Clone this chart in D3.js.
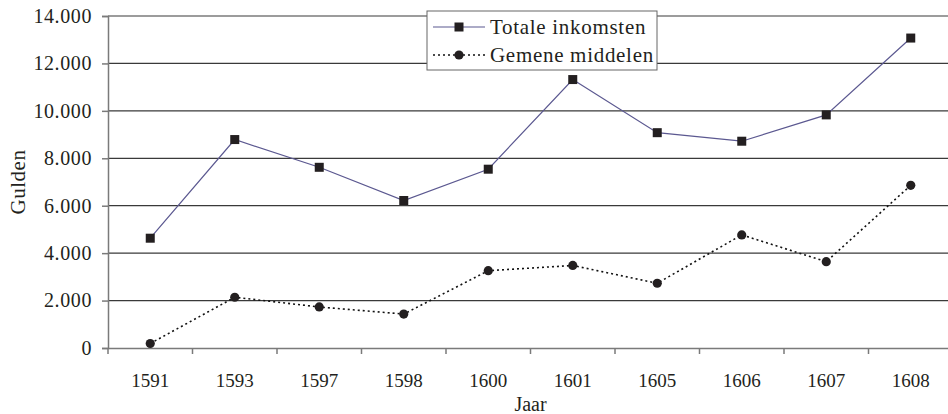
<!DOCTYPE html>
<html>
<head>
<meta charset="utf-8">
<script src="https://cdn.jsdelivr.net/npm/d3@7"></script>
<style>
  html, body { margin: 0; padding: 0; background: #fff; }
  svg text { font-family: "Liberation Serif", "DejaVu Serif", serif; fill: #231f20; font-variant-numeric: oldstyle-nums; }
</style>
</head>
<body>
<div id="chart"></div>
<script>
// data
let years = ["1591", "1593", "1597", "1598", "1600", "1601", "1605", "1606", "1607", "1608"];
let totaleInkomsten = [4630, 8790, 7620, 6220, 7540, 11320, 9080, 8720, 9830, 13070];
let gemeneMiddelen = [190, 2140, 1730, 1430, 3260, 3480, 2730, 4770, 3640, 6860];
let yTicks = [0, 2000, 4000, 6000, 8000, 10000, 12000, 14000];
let seriesNames = ["Totale inkomsten", "Gemene middelen"];

let width = 948, height = 414;
let plotLeft = 108, plotRight = 953, plotTop = 16, plotBottom = 348;

let svg = d3.select("#chart")
    .append("svg")
        .attr("width", width)
        .attr("height", height);

let x = d3.scaleBand()
    .domain(years)
    .range([plotLeft, plotRight])
    .padding(0);

let y = d3.scaleLinear()
    .domain([0, 14000])
    .range([plotBottom, plotTop]);

let nl = d3.formatLocale({decimal: ",", thousands: ".", grouping: [3], currency: ["", ""]});
let fmt = nl.format(",");

// horizontal gridlines
svg.append("g")
    .selectAll("line")
    .data(yTicks.filter(d => d > 0))
    .enter()
    .append("line")
        .attr("x1", plotLeft)
        .attr("x2", plotRight)
        .attr("y1", d => y(d))
        .attr("y2", d => y(d))
        .attr("stroke", "#3a3a3a")
        .attr("stroke-width", 1.2);

// y axis
let yAxis = svg.append("g")
    .attr("transform", "translate(" + plotLeft + ",0)")
    .call(d3.axisLeft(y).tickValues(yTicks).tickFormat(fmt).tickSize(6).tickPadding(10));
yAxis.select(".domain").attr("stroke", "#7a7a7a").attr("stroke-width", 1.5);
yAxis.selectAll(".tick line").attr("stroke", "#7a7a7a").attr("stroke-width", 1.5);
yAxis.selectAll(".tick text")
    .style("font-size", "20px")
    .style("letter-spacing", "0.6px")
    .attr("fill", "#231f20");

// x axis: labels at band centres, ticks at band edges
let xAxis = svg.append("g")
    .attr("transform", "translate(0," + plotBottom + ")")
    .call(d3.axisBottom(x).tickSize(0).tickPadding(26).tickSizeOuter(0));
xAxis.select(".domain").attr("stroke", "#7a7a7a").attr("stroke-width", 1.5);
xAxis.selectAll(".tick text").style("font-size", "19px").attr("fill", "#231f20");

let edges = years.map(d => x(d)).concat([x.range()[1]]);
xAxis.selectAll(".edge")
    .data(edges)
    .enter()
    .append("line")
        .attr("class", "edge")
        .attr("x1", d => d)
        .attr("x2", d => d)
        .attr("y1", 0)
        .attr("y2", 6)
        .attr("stroke", "#7a7a7a")
        .attr("stroke-width", 1.5);

// axis titles
svg.append("text")
    .attr("text-anchor", "middle")
    .attr("transform", "translate(25," + ((plotTop + plotBottom) / 2) + ") rotate(-90)")
    .style("font-size", "21px")
    .style("letter-spacing", "0.5px")
    .text("Gulden");

svg.append("text")
    .attr("text-anchor", "middle")
    .attr("x", (plotLeft + plotRight) / 2)
    .attr("y", 411)
    .style("font-size", "20px")
    .text("Jaar");

let cx = d => x(d) + x.bandwidth() / 2;

// gemene middelen: dotted black line with circles
let lineG = d3.line()
    .x((d, i) => cx(years[i]))
    .y(d => y(d));

svg.append("path")
    .datum(gemeneMiddelen)
    .attr("fill", "none")
    .attr("stroke", "#111")
    .attr("stroke-width", 1.6)
    .attr("stroke-dasharray", "2,3")
    .attr("d", lineG);

svg.selectAll(".dot")
    .data(gemeneMiddelen)
    .enter()
    .append("circle")
        .attr("class", "dot")
        .attr("cx", (d, i) => cx(years[i]))
        .attr("cy", d => y(d))
        .attr("r", 4.6)
        .attr("fill", "#231f20");

// totale inkomsten: thin purple line with squares
svg.append("path")
    .datum(totaleInkomsten)
    .attr("fill", "none")
    .attr("stroke", "#5b5890")
    .attr("stroke-width", 1.2)
    .attr("d", lineG);

svg.selectAll(".sq")
    .data(totaleInkomsten)
    .enter()
    .append("rect")
        .attr("class", "sq")
        .attr("x", (d, i) => cx(years[i]) - 4.5)
        .attr("y", d => y(d) - 4.5)
        .attr("width", 9)
        .attr("height", 9)
        .attr("fill", "#231f20");

// legend
let legend = svg.append("g").attr("transform", "translate(427,11)");
legend.append("rect")
    .attr("width", 230)
    .attr("height", 59)
    .attr("fill", "#fff")
    .attr("stroke", "#666")
    .attr("stroke-width", 1);

let rows = legend.selectAll(".row")
    .data(seriesNames)
    .enter()
    .append("g")
        .attr("class", "row")
        .attr("transform", (d, i) => "translate(0," + (16 + i * 28) + ")");

rows.append("line")
    .attr("x1", 6)
    .attr("x2", 58)
    .attr("stroke", (d, i) => i === 0 ? "#5b5890" : "#111")
    .attr("stroke-width", (d, i) => i === 0 ? 1.2 : 1.6)
    .attr("stroke-dasharray", (d, i) => i === 0 ? null : "2,3");

rows.filter((d, i) => i === 0).append("rect")
    .attr("x", 27.5)
    .attr("y", -4.5)
    .attr("width", 9)
    .attr("height", 9)
    .attr("fill", "#231f20");

rows.filter((d, i) => i === 1).append("circle")
    .attr("cx", 32)
    .attr("r", 4.6)
    .attr("fill", "#231f20");

rows.append("text")
    .attr("x", 63)
    .attr("dy", "0.35em")
    .style("font-size", "21px")
    .style("letter-spacing", "0.7px")
    .text(d => d);
</script>
</body>
</html>
